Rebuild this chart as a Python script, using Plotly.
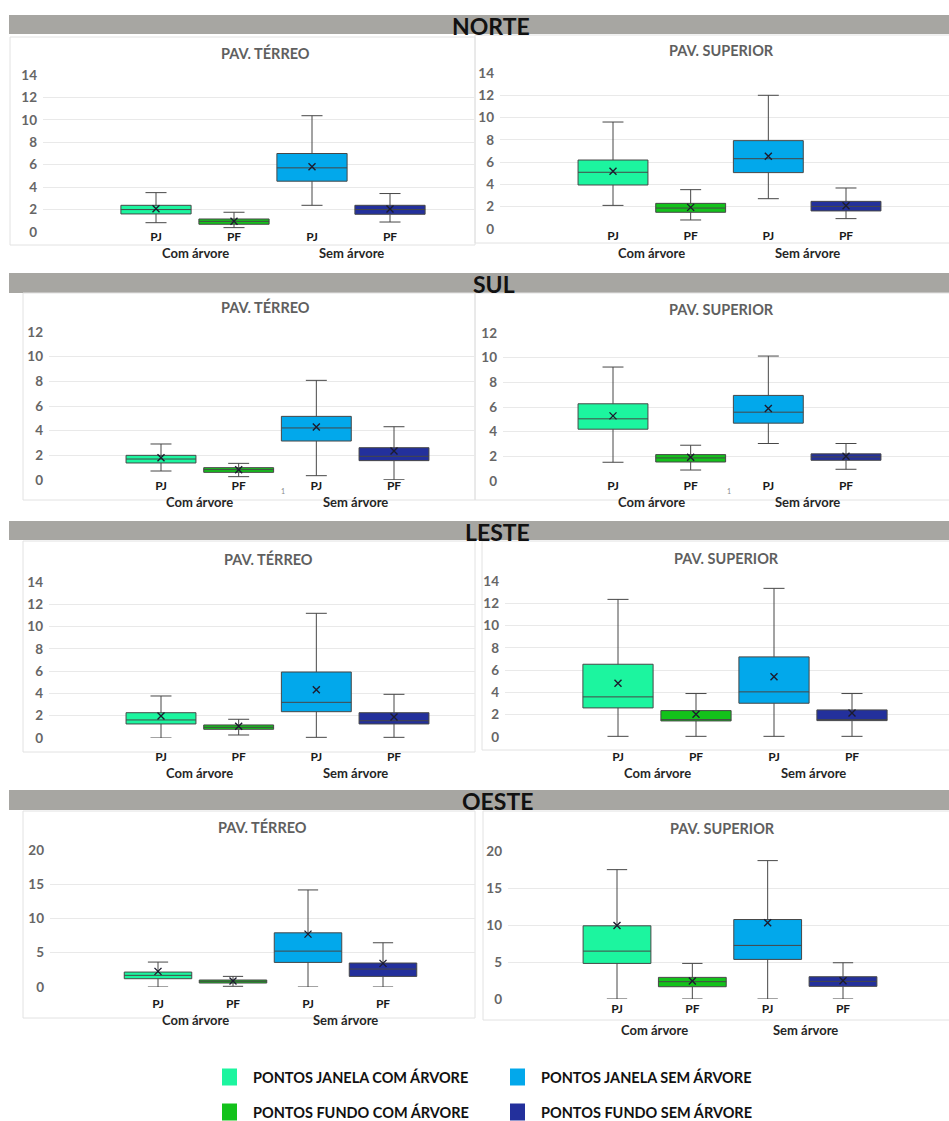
import plotly.graph_objects as go

W, H = 949, 1121

# ---- categories / labels ----
categories = ["PJ", "PF", "PJ", "PF"]
groups = ["Com árvore", "Sem árvore"]
series_names = ["PONTOS JANELA COM ÁRVORE", "PONTOS FUNDO COM ÁRVORE",
                "PONTOS JANELA SEM ÁRVORE", "PONTOS FUNDO SEM ÁRVORE"]
sections = ["NORTE", "SUL", "LESTE", "OESTE"]
floors = ["PAV. TÉRREO", "PAV. SUPERIOR"]

# ---- box statistics (order: PJ com, PF com, PJ sem, PF sem) ----
norte_terreo_min = [0.83, 0.39, 2.38, 0.89]
norte_terreo_q1 = [1.61, 0.69, 4.53, 1.58]
norte_terreo_med = [2.00, 0.95, 5.72, 2.00]
norte_terreo_q3 = [2.38, 1.16, 7.00, 2.38]
norte_terreo_max = [3.51, 1.76, 10.37, 3.43]
norte_terreo_mean = [2.08, 0.95, 5.81, 2.05]

norte_superior_min = [2.12, 0.81, 2.72, 0.93]
norte_superior_q1 = [3.95, 1.50, 5.06, 1.62]
norte_superior_med = [5.09, 1.88, 6.31, 2.03]
norte_superior_q3 = [6.19, 2.30, 7.93, 2.48]
norte_superior_max = [9.60, 3.53, 12.00, 3.68]
norte_superior_mean = [5.18, 1.94, 6.52, 2.09]

sul_terreo_min = [0.73, 0.27, 0.35, 0.02]
sul_terreo_q1 = [1.38, 0.62, 3.16, 1.57]
sul_terreo_med = [1.70, 0.84, 4.22, 1.92]
sul_terreo_q3 = [2.00, 1.00, 5.16, 2.62]
sul_terreo_max = [2.92, 1.35, 8.08, 4.32]
sul_terreo_mean = [1.81, 0.84, 4.30, 2.35]

sul_superior_min = [1.52, 0.89, 3.04, 0.95]
sul_superior_q1 = [4.20, 1.54, 4.69, 1.68]
sul_superior_med = [5.04, 1.87, 5.58, 1.95]
sul_superior_q3 = [6.26, 2.14, 6.94, 2.20]
sul_superior_max = [9.24, 2.90, 10.13, 3.04]
sul_superior_mean = [5.28, 1.92, 5.88, 2.00]

leste_terreo_min = [0.00, 0.27, 0.06, 0.06]
leste_terreo_q1 = [1.26, 0.78, 2.36, 1.26]
leste_terreo_med = [1.62, 0.96, 3.20, 1.55]
leste_terreo_q3 = [2.27, 1.17, 5.92, 2.27]
leste_terreo_max = [3.77, 1.68, 11.19, 3.92]
leste_terreo_mean = [1.97, 1.05, 4.34, 1.88]

leste_superior_min = [0.06, 0.06, 0.06, 0.06]
leste_superior_q1 = [2.61, 1.44, 3.03, 1.47]
leste_superior_med = [3.60, 1.56, 4.05, 1.56]
leste_superior_q3 = [6.53, 2.37, 7.19, 2.43]
leste_superior_max = [12.35, 3.90, 13.34, 3.90]
leste_superior_mean = [4.83, 2.04, 5.40, 2.16]

oeste_terreo_min = [0.00, 0.10, 0.00, 0.00]
oeste_terreo_q1 = [1.21, 0.58, 3.59, 1.55]
oeste_terreo_med = [1.70, 0.83, 5.24, 2.62]
oeste_terreo_q3 = [2.18, 1.02, 7.91, 3.50]
oeste_terreo_max = [3.64, 1.55, 14.17, 6.46]
oeste_terreo_mean = [2.28, 0.87, 7.72, 3.45]

oeste_superior_min = [0.00, 0.00, 0.00, 0.00]
oeste_superior_q1 = [4.81, 1.66, 5.35, 1.71]
oeste_superior_med = [6.47, 2.34, 7.24, 2.38]
oeste_superior_q3 = [9.89, 2.92, 10.74, 3.01]
oeste_superior_max = [17.48, 4.81, 18.70, 4.90]
oeste_superior_mean = [9.93, 2.43, 10.29, 2.47]

y_max = [14, 12, 14, 20]
y_step = [2, 2, 2, 5]

stats = [
    (norte_terreo_min, norte_terreo_q1, norte_terreo_med, norte_terreo_q3, norte_terreo_max, norte_terreo_mean),
    (norte_superior_min, norte_superior_q1, norte_superior_med, norte_superior_q3, norte_superior_max, norte_superior_mean),
    (sul_terreo_min, sul_terreo_q1, sul_terreo_med, sul_terreo_q3, sul_terreo_max, sul_terreo_mean),
    (sul_superior_min, sul_superior_q1, sul_superior_med, sul_superior_q3, sul_superior_max, sul_superior_mean),
    (leste_terreo_min, leste_terreo_q1, leste_terreo_med, leste_terreo_q3, leste_terreo_max, leste_terreo_mean),
    (leste_superior_min, leste_superior_q1, leste_superior_med, leste_superior_q3, leste_superior_max, leste_superior_mean),
    (oeste_terreo_min, oeste_terreo_q1, oeste_terreo_med, oeste_terreo_q3, oeste_terreo_max, oeste_terreo_mean),
    (oeste_superior_min, oeste_superior_q1, oeste_superior_med, oeste_superior_q3, oeste_superior_max, oeste_superior_mean),
]

# ---- styling ----
FONT = "Lato"
box_colors = ["#1CF59F", "#13C21B", "#02A8EB", "#23309C"]
outline = "#474747"
grid = "#e9e9e9"
band_color = "#a7a6a2"
frame_color = "#e2e2e2"
tick_color = "#666666"

# pixel layout of each panel: plot left/right/top/bottom, centre of first and
# last box, title centre, category-label centre y, group-label centre y
panels = [
    dict(l=43, r=475, t=75, b=232, c1=156, c4=390, tx=265, ty=53, ly=238, gy=253),
    dict(l=500, r=949, t=73, b=229, c1=613, c4=846, tx=721, ty=51, ly=237, gy=253),
    dict(l=49, r=475, t=332, b=480, c1=161, c4=394, tx=265, ty=307, ly=487, gy=502),
    dict(l=503, r=949, t=333, b=481, c1=613, c4=846, tx=721, ty=310, ly=487, gy=502),
    dict(l=49, r=475, t=582, b=738, c1=161, c4=394, tx=268, ty=559, ly=758, gy=773),
    dict(l=505, r=949, t=581, b=737, c1=618, c4=852, tx=726, ty=558, ly=758, gy=773),
    dict(l=50, r=475, t=850, b=987, c1=158, c4=383, tx=262, ty=827, ly=1005, gy=1020),
    dict(l=508, r=949, t=851, b=999, c1=617, c4=843, tx=722, ty=828, ly=1010, gy=1030),
]

bands = [(15, 34, 491), (273, 293, 494), (521, 540, 497), (790, 810, 497)]
frames = [(10, 37, 475, 245), (475, 35, 960, 243),
          (23, 293, 475, 500), (475, 293, 960, 500),
          (23, 541, 475, 752), (482, 541, 960, 750),
          (23, 811, 475, 1018), (483, 811, 960, 1020)]


def px_x(p):
    return p / W


def px_y(p):
    return 1 - p / H


fig = go.Figure()
shapes = []
annotations = []

# section header bands
for (top, bot, cx), name in zip(bands, sections):
    shapes.append(dict(type="rect", xref="paper", yref="paper",
                       x0=px_x(9), x1=1.0, y0=px_y(bot), y1=px_y(top),
                       fillcolor=band_color, line=dict(width=0), layer="below"))
    annotations.append(dict(text=f"<b>{name}</b>", xref="paper", yref="paper",
                            x=px_x(cx), y=px_y((top + bot) / 2 + 1),
                            showarrow=False, xanchor="center", yanchor="middle",
                            font=dict(family=FONT, size=23, color="#111111")))

for (x0, y0, x1, y1) in frames:
    shapes.append(dict(type="rect", xref="paper", yref="paper",
                       x0=px_x(x0), x1=px_x(x1), y0=px_y(y1), y1=px_y(y0),
                       fillcolor="rgba(0,0,0,0)", line=dict(width=1, color=frame_color),
                       layer="below"))

positions = [1, 2, 3, 4]

for i, (p, st) in enumerate(zip(panels, stats)):
    row = i // 2
    xa = "x" if i == 0 else f"x{i + 1}"
    ya = "y" if i == 0 else f"y{i + 1}"
    lo, q1, med, q3, hi, mean = st

    for k in range(4):
        fig.add_trace(go.Box(
            x=[positions[k]], q1=[q1[k]], median=[med[k]], q3=[q3[k]],
            lowerfence=[lo[k]], upperfence=[hi[k]],
            fillcolor=box_colors[k], line=dict(color=outline, width=1),
            width=0.9, whiskerwidth=0.3, boxpoints=False,
            name=series_names[k], showlegend=False,
            xaxis=xa, yaxis=ya))
    fig.add_trace(go.Scatter(
        x=positions, y=mean, mode="markers",
        marker=dict(symbol="x-thin", size=7, line=dict(width=1.4, color="#1c1c2e")),
        showlegend=False, hoverinfo="y", xaxis=xa, yaxis=ya))

    s = (p["c4"] - p["c1"]) / 3
    xr = [1 - (p["c1"] - p["l"]) / s, 4 + (p["r"] - p["c4"]) / s]
    xkey = "xaxis" if i == 0 else f"xaxis{i + 1}"
    ykey = "yaxis" if i == 0 else f"yaxis{i + 1}"
    fig.update_layout({
        xkey: dict(domain=[px_x(p["l"]), px_x(p["r"])], range=xr,
                   anchor=ya, tickvals=positions, ticktext=[f"<b>{c}</b>" for c in categories],
                   tickfont=dict(family=FONT, size=12, color="#1a1a1a"),
                   showgrid=False, zeroline=False, showline=False, ticks="",
                   ticklabelstandoff=int(p["ly"] - p["b"] - 10)),
        ykey: dict(domain=[px_y(p["b"]), px_y(p["t"])], range=[0, y_max[row]],
                   dtick=y_step[row], tick0=0, anchor=xa,
                   tickfont=dict(family=FONT, size=13.5, color=tick_color),
                   tickprefix="<b>", ticksuffix="</b>",
                   showgrid=True, gridcolor=grid, gridwidth=1,
                   zeroline=False, showline=False, ticks="", ticklabelstandoff=5),
    })

    annotations.append(dict(text=f"<b>{floors[i % 2]}</b>", xref="paper", yref="paper",
                            x=px_x(p["tx"]), y=px_y(p["ty"]), showarrow=False,
                            xanchor="center", yanchor="middle",
                            font=dict(family=FONT, size=14.5, color="#5f5f5f")))
    for g, gx in zip(groups, [1.5, 3.5]):
        annotations.append(dict(text=f"<b>{g}</b>", xref=xa, yref="paper",
                                x=gx, y=px_y(p["gy"]), showarrow=False,
                                xanchor="center", yanchor="middle",
                                font=dict(family=FONT, size=13, color="#262626")))

# small stray footnote marks on the SUL row
for fx in (279, 733):
    annotations.append(dict(text="1", xref="paper", yref="paper", x=px_x(fx), y=px_y(491),
                            showarrow=False, font=dict(family=FONT, size=7, color="#8a8a8a")))

# legend: 2 x 2 grid of colour swatches and labels
legend_order = [0, 2, 1, 3]
legend_cells = [(222, 1077), (510, 1077), (222, 1112), (510, 1112)]
for idx, (lx, ly) in zip(legend_order, legend_cells):
    shapes.append(dict(type="rect", xref="paper", yref="paper",
                       x0=px_x(lx), x1=px_x(lx + 15), y0=px_y(ly + 8.5), y1=px_y(ly - 8.5),
                       fillcolor=box_colors[idx], line=dict(width=0)))
    annotations.append(dict(text=f"<b>{series_names[idx]}</b>", xref="paper", yref="paper",
                            x=px_x(lx + 29), y=px_y(ly), showarrow=False,
                            xanchor="left", yanchor="middle",
                            font=dict(family=FONT, size=14.5, color="#111111")))

fig.update_layout(
    width=W, height=H,
    margin=dict(l=0, r=0, t=0, b=0, pad=0, autoexpand=False),
    paper_bgcolor="white", plot_bgcolor="white",
    font=dict(family=FONT),
    shapes=shapes, annotations=annotations,
    showlegend=False,
)

fig.write_html("out.html")
